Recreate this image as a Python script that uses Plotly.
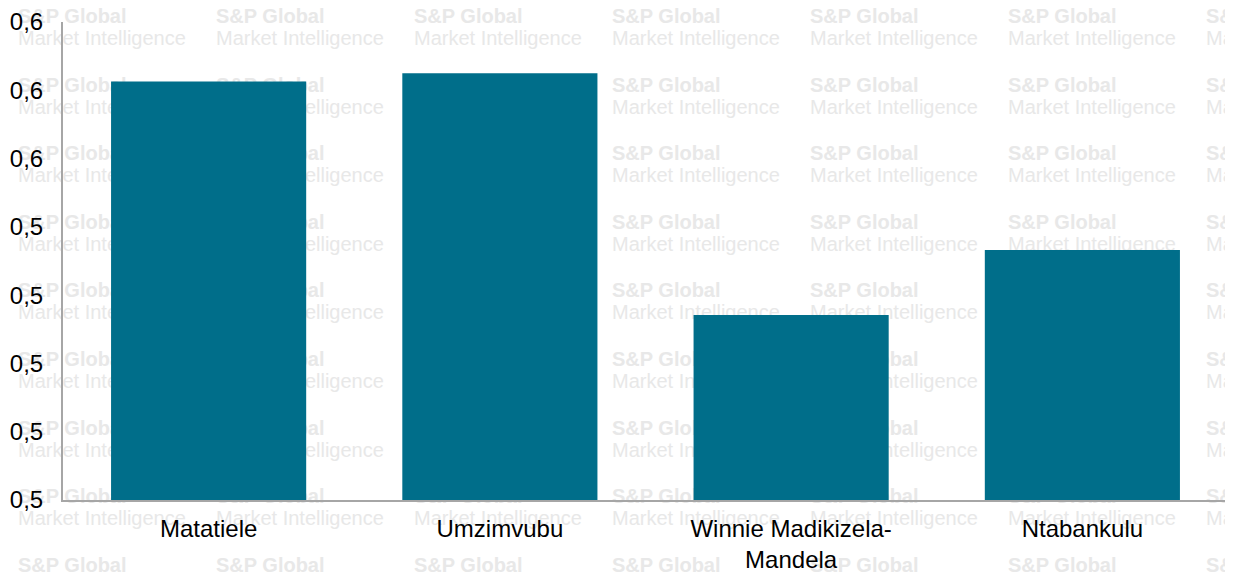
import plotly.graph_objects as go

# ---- data ----
categories = ["Matatiele", "Umzimvubu", "Winnie Madikizela-<br>Mandela", "Ntabankulu"]
values = [0.5613, 0.5625, 0.5271, 0.5366]
tick_values = [0.50, 0.51, 0.52, 0.53, 0.54, 0.55, 0.56, 0.57]
tick_labels = ["0,5", "0,5", "0,5", "0,5", "0,5", "0,6", "0,6", "0,6"]

# ---- figure geometry (pixels); page body has an 8px margin ----
OFF = 8
W, H = 1233 - OFF, 572 - OFF
ml, mt = 63 - OFF, 22 - OFF
right_px, bottom_px = 1228 - OFF, 500 - OFF
mr, mb = W - right_px, H - bottom_px

# ---- watermark (decorative, behind bars), in figure pixels ----
wm1_x, wm1_y, wm1_t = [], [], []
wm2_x, wm2_y, wm2_t = [], [], []
col_px = [18 + 198 * i for i in range(7)]
row_px = [18 + 68.6 * j for j in range(9)]
for cx in col_px:
    for ry in row_px:
        wm1_x.append(cx - OFF); wm1_y.append(ry - OFF); wm1_t.append("<b>S&P Global</b>")
        wm2_x.append(cx - OFF); wm2_y.append(ry + 22 - OFF); wm2_t.append("Market Intelligence")

FONT = "Liberation Sans, Arial, sans-serif"
WM_COLOR = "#e8e8e8"

fig = go.Figure()
for xs, ys, ts in ((wm1_x, wm1_y, wm1_t), (wm2_x, wm2_y, wm2_t)):
    fig.add_trace(go.Scatter(
        x=xs, y=ys, text=ts, mode="text", textposition="middle right",
        textfont=dict(family=FONT, size=20, color=WM_COLOR),
        cliponaxis=False, hoverinfo="skip", showlegend=False,
        xaxis="x", yaxis="y",
    ))
fig.add_trace(go.Bar(
    x=categories, y=values, marker_color="#006e8a", marker_line_width=0,
    showlegend=False, xaxis="x2", yaxis="y2",
))

fig.update_layout(
    width=W, height=H,
    margin=dict(l=0, r=0, t=0, b=0),
    paper_bgcolor="white", plot_bgcolor="rgba(0,0,0,0)",
    bargap=0.33,
    font=dict(family=FONT, size=24, color="black"),
    xaxis=dict(domain=[0, 1], range=[0, W], visible=False, fixedrange=True, automargin=False),
    yaxis=dict(domain=[0, 1], range=[H, 0], visible=False, fixedrange=True, automargin=False),
    xaxis2=dict(domain=[ml / W, (W - mr) / W], anchor="y2", showline=True,
                linecolor="#a6a6a6", linewidth=2, showgrid=False, ticks="",
                ticklabelstandoff=6, automargin=False,
                tickfont=dict(family=FONT, size=24, color="black")),
    yaxis2=dict(domain=[mb / H, (H - mt) / H], anchor="x2", range=[0.50, 0.57],
                showline=True, linecolor="#a6a6a6", linewidth=2, showgrid=False,
                zeroline=False, ticks="", tickvals=tick_values, ticktext=tick_labels,
                ticklabelstandoff=13, automargin=False,
                tickfont=dict(family=FONT, size=24, color="black")),
)

fig.write_html("out.html")
